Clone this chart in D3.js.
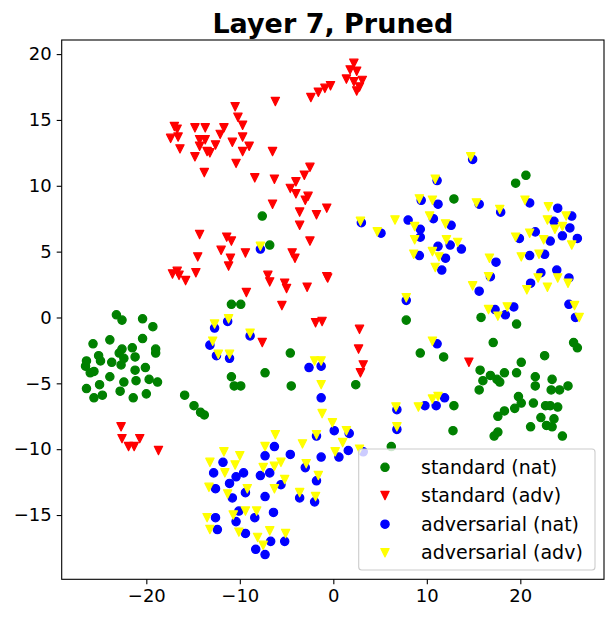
<!DOCTYPE html>
<html>
<head>
<meta charset="utf-8">
<script src="https://cdn.jsdelivr.net/npm/d3@7"></script>
<style>
  body { margin: 0; background: #fff; }
  text { font-family: "DejaVu Sans", sans-serif; }
</style>
</head>
<body>
<svg id="chart" width="613" height="618"></svg>
<script>
const title = "Layer 7, Pruned";
const seriesNames = ["standard (nat)", "standard (adv)", "adversarial (nat)", "adversarial (adv)"];
const seriesColors = ["green", "red", "blue", "yellow"];
const seriesShapes = ["circle", "triangle", "circle", "triangle"];
const xTicks = [-20, -10, 0, 10, 20];
const yTicks = [-15, -10, -5, 0, 5, 10, 15, 20];

const standardNat = [
[-7.6,7.7],[20.6,10.8],[19.5,10.2],[12.9,9.0],
[-10.9,1.0],[-9.9,1.0],
[-23.2,0.2],[-22.6,-0.2],[-20.4,-0.1],[-19.3,-0.7],[-25.7,-2.0],[-23.9,-1.7],[-20.4,-1.6],[-22.6,-2.4],[-21.5,-2.3],[-22.9,-2.7],[-19.0,-2.4],[-19.0,-2.7],[-25.1,-2.9],[-24.9,-3.3],[-23.7,-3.4],[-22.4,-3.1],[-22.7,-3.6],[-21.2,-3.0],[-26.4,-3.3],[-26.5,-3.7],[-20.1,-3.8],[-21.2,-4.0],[-25.6,-4.1],[-26.0,-4.2],[-23.9,-4.5],[-22.4,-4.9],[-21.1,-4.8],[-19.7,-4.7],[-18.8,-4.9],[-25.0,-5.1],[-26.4,-5.4],[-22.8,-5.6],[-20.0,-5.8],[-24.7,-5.9],[-25.6,-6.1],[-21.4,-6.1],[-15.9,-5.9],[-10.9,-4.5],[-10.6,-5.2],[-9.9,-5.2],
[-14.9,-6.7],[-14.2,-7.2],[-13.8,-7.4],
[-6.8,5.5],[7.8,-0.2],[9.3,-2.7],[-4.6,-2.7],[-7.3,-4.2],[-4.5,-5.2],[2.4,-5.1],
[15.8,0.0],[19.6,-0.5],[17.1,-1.9],[25.7,-1.9],[26.1,-2.3],[11.8,-3.0],[22.6,-2.9],[20.1,-3.4],[15.7,-4.0],[16.8,-4.4],[16.0,-4.8],[18.3,-4.2],[19.6,-4.2],[17.5,-4.7],[17.8,-4.9],[15.6,-5.5],[21.6,-4.5],[21.6,-5.2],[23.4,-4.7],[23.3,-5.5],[24.2,-5.5],[25.1,-5.2],[12.9,-6.7],[19.8,-6.0],[20.1,-6.5],[19.4,-6.9],[21.4,-6.5],[22.7,-6.7],[23.2,-6.7],[24.0,-6.8],[18.3,-7.1],[17.6,-7.5],[22.2,-7.6],[23.6,-7.7],[21.1,-8.3],[22.8,-8.2],[23.4,-8.3],[12.8,-8.6],[17.6,-8.7],[17.2,-9.0],[24.5,-9.0],
[6.2,-9.8]
];

const standardAdv = [
[-10.5,16.0],[-10.2,15.2],[-9.7,14.6],[-17.0,14.5],[-16.7,14.3],[-14.8,14.4],[-13.7,14.4],[-11.7,14.4],[-12.1,13.9],[-17.4,13.6],[-16.6,13.7],[-14.3,13.5],[-13.7,13.5],[-10.8,13.3],[-9.7,13.7],[-12.6,13.1],[-14.3,13.0],[-16.4,12.8],[-13.5,12.6],[-13.2,12.5],[-9.7,12.6],[-14.8,12.2],[-10.4,11.7],[-13.8,11.0],
[2.2,19.3],[1.8,18.8],[2.5,18.7],[1.4,18.1],[2.2,17.9],[3.1,18.0],[2.8,17.5],[2.5,17.2],[-0.3,17.6],[-0.9,17.4],[-1.6,17.1],[-2.4,16.7],[-6.2,16.4],[-9.0,13.0],[-6.5,12.6],[-2.5,11.4],[-3.1,10.8],[-8.4,10.6],[-6.3,10.5],[-4.0,10.3],[-4.6,9.8],[-4.0,9.4],[-2.7,9.2],[-3.0,8.9],[-6.5,8.6],[-0.7,8.3],[-3.6,8.0],[-1.8,7.8],
[-14.3,6.3],[-11.4,6.1],[-10.9,5.8],[-12.0,5.1],[-14.5,4.6],[-11.0,4.5],[-9.4,4.9],[-11.2,3.9],[-17.2,3.3],[-16.7,3.5],[-16.5,3.2],[-15.8,2.8],[-14.7,3.4],
[-3.6,7.0],[-2.5,5.8],[-4.4,4.9],[-4.1,4.5],[-7.0,3.2],[-6.8,2.7],[-5.2,2.6],[-5.0,2.2],[-2.8,2.3],[-0.7,3.1],[-0.6,3.0],[-9.3,1.9],[-5.5,0.9],[-1.9,-0.4],[-1.2,-0.3],[2.8,-0.9],[-7.6,-1.9],[2.7,-2.4],[3.2,-3.6],[2.9,-4.2],
[14.5,-3.4],
[-22.7,-8.3],[-22.6,-9.2],[-21.9,-9.8],[-21.3,-9.8],[-20.7,-9.2],[-18.7,-10.1]
];

const adversarialNat = [
[14.9,12.0],[11.1,10.4],[9.4,8.9],[11.2,8.6],[15.6,8.6],[21.0,8.7],[17.9,8.0],[24.0,8.3],[10.7,7.5],[23.6,7.3],[25.5,7.7],[12.6,7.0],[25.3,6.8],[21.6,6.5],[19.9,6.0],[23.2,5.8],[24.5,6.2],[26.1,6.0],[12.5,5.5],[13.7,5.2],[11.2,5.4],[12.0,4.5],[17.4,4.2],[21.0,4.7],[22.6,4.8],[11.6,3.6],[16.8,3.1],[22.2,3.4],[23.9,3.6],[25.2,3.0],[21.1,2.6],[15.6,2.0],[17.3,0.6],[18.4,0.2],[19.3,0.8],[25.2,1.0],[25.9,0.0],
[3.0,7.2],[5.1,6.4],[8.0,7.4],[9.3,6.7],[9.3,6.1],[9.2,4.7],[7.8,1.3],[-7.8,5.2],[-8.9,-1.4],[-2.6,-3.8],[-1.3,-3.7],[-1.3,-6.1],
[-12.7,-0.8],[-11.3,-0.3],[-13.2,-2.1],[-12.5,-2.9],[-11.1,-3.1],
[11.1,-2.0],[11.9,-6.1],[11.0,-6.7],[9.8,-6.7],
[-11.8,-11.0],[-12.8,-11.8],[-10.4,-12.1],[-11.1,-12.6],[-9.6,-11.8],[-12.6,-13.0],[-10.8,-13.7],[-12.6,-15.2],[-12.4,-16.1],[-10.4,-15.5],[-10.1,-14.7],
[0.1,-8.6],[1.7,-8.8],[-6.3,-9.8],[-1.8,-9.0],[1.6,-10.1],[3.2,-10.2],[6.8,-7.0],[6.8,-8.5],[-7.3,-10.5],[-4.6,-10.4],[0.6,-10.6],[-1.3,-10.6],[-7.8,-12.0],[-6.8,-11.8],[-3.0,-11.4],[-5.6,-12.7],[-1.8,-12.4],[-9.4,-13.3],[-7.3,-13.6],[-3.6,-13.7],[-2.0,-14.0],[-6.4,-14.8],[-8.4,-15.2],[-9.4,-16.4],[-6.7,-17.0],[-5.2,-17.0],[-8.3,-17.6],[-7.3,-18.0]
];

const adversarialAdv = [
[14.7,12.2],[10.9,10.5],[9.2,9.0],[10.6,8.9],[15.3,8.7],[20.5,8.9],[17.8,8.2],[23.0,8.4],[10.3,7.7],[22.9,7.4],[24.9,7.7],[12.0,7.1],[23.7,6.7],[24.5,6.9],[21.0,6.4],[19.5,6.1],[22.5,5.9],[12.1,5.9],[13.3,5.7],[25.5,5.5],[10.6,5.0],[11.3,4.6],[16.7,4.5],[20.1,4.6],[22.0,4.8],[10.9,3.8],[16.6,3.1],[21.9,3.0],[24.0,3.0],[25.1,2.6],[20.7,2.1],[22.9,2.3],[14.9,2.4],[16.6,0.6],[17.6,0.1],[18.6,0.8],[25.8,0.9],[26.3,0.0],
[2.9,7.3],[4.7,6.5],[6.6,7.4],[8.7,6.9],[8.7,5.9],[8.6,4.8],[7.8,1.5],[-7.8,5.4],[-8.9,-1.2],[-2.0,-3.3],[-1.3,-3.3],[-1.3,-5.1],
[-12.7,-0.5],[-11.2,-0.1],[-12.9,-1.8],[-12.3,-2.8],[-11.1,-2.8],
[10.6,-1.8],[10.6,-6.2],[11.2,-6.0],
[-11.7,-10.2],[-13.2,-11.0],[-10.0,-10.5],[-10.5,-11.2],[-11.6,-11.8],[-13.3,-12.9],[-11.3,-13.4],[-13.5,-15.2],[-13.2,-16.1],[-10.7,-15.0],[-10.1,-16.3],
[-1.2,-7.3],[-0.1,-8.0],[1.4,-8.6],[-6.2,-8.9],[-1.8,-8.9],[-3.3,-9.6],[1.0,-9.5],[2.8,-10.0],[6.7,-6.8],[9.1,-6.8],[6.8,-8.3],[-7.3,-9.8],[0.2,-10.2],[-7.5,-11.4],[-6.3,-11.3],[-5.6,-11.0],[-2.9,-11.1],[-5.2,-12.3],[-1.6,-12.0],[-9.2,-13.0],[-6.3,-13.0],[-3.6,-13.3],[-1.9,-13.6],[-9.4,-14.7],[-8.2,-14.7],[-6.8,-16.2],[-5.1,-16.4],[-8.1,-16.7],[-7.5,-17.3]
];

const seriesData = [standardNat, standardAdv, adversarialNat, adversarialAdv];

const svg = d3.select("#chart");
const L = 61.7, R = 604, T = 40, B = 579.3;
const x = d3.scaleLinear().domain([-29.05, 28.95]).range([L, R]);
const y = d3.scaleLinear().domain([-19.88, 21.07]).range([B, T]);

const half = 4.17;
const triPath = `M${-half},${-half}L${half},${-half}L0,${half}Z`;

function drawMarker(g, shape, color) {
  if (shape === "circle") {
    g.append("circle").attr("r", half).attr("fill", color).attr("stroke", color).attr("stroke-width", 1.2);
  } else {
    g.append("path").attr("d", triPath).attr("fill", color).attr("stroke", color).attr("stroke-width", 1.2).attr("stroke-linejoin", "round");
  }
}

const plot = svg.append("g");
seriesData.forEach((data, i) => {
  const sel = plot.append("g").selectAll("g").data(data).enter().append("g")
    .attr("transform", d => `translate(${x(d[0])},${y(d[1])})`);
  sel.each(function() { drawMarker(d3.select(this), seriesShapes[i], seriesColors[i]); });
});

// axes
const xAxis = d3.axisBottom(x).tickValues(xTicks).tickSize(5).tickPadding(5);
const yAxis = d3.axisLeft(y).tickValues(yTicks).tickSize(5).tickPadding(5);
const gx = svg.append("g").attr("transform", `translate(0,${B})`).call(xAxis);
const gy = svg.append("g").attr("transform", `translate(${L},0)`).call(yAxis);
[gx, gy].forEach(g => {
  g.select(".domain").remove();
  g.selectAll("text").attr("font-family", "DejaVu Sans").attr("font-size", 18).attr("fill", "#000");
  g.selectAll("line").attr("stroke", "#000").attr("stroke-width", 1.1);
});
svg.append("rect").attr("x", L).attr("y", T).attr("width", R - L).attr("height", B - T)
  .attr("fill", "none").attr("stroke", "#000").attr("stroke-width", 1.1);

// title
svg.append("text").attr("x", (L + R) / 2).attr("y", 33).attr("text-anchor", "middle")
  .attr("font-size", 27).attr("font-weight", "bold").text(title);

// legend
const lg = svg.append("g");
lg.append("rect").attr("x", 358.7).attr("y", 449).attr("width", 236.3).attr("height", 121)
  .attr("rx", 3).attr("fill", "#fff").attr("fill-opacity", 0.8).attr("stroke", "#cccccc").attr("stroke-width", 1.1);
const rowY = [467.3, 495.5, 524.2, 552.7];
seriesNames.forEach((name, i) => {
  const m = lg.append("g").attr("transform", `translate(385,${rowY[i]})`);
  drawMarker(m, seriesShapes[i], seriesColors[i]);
  lg.append("text").attr("x", 421).attr("y", rowY[i] + 6.5).attr("font-size", 19).attr("fill", "#000").text(name);
});
</script>
</body>
</html>
